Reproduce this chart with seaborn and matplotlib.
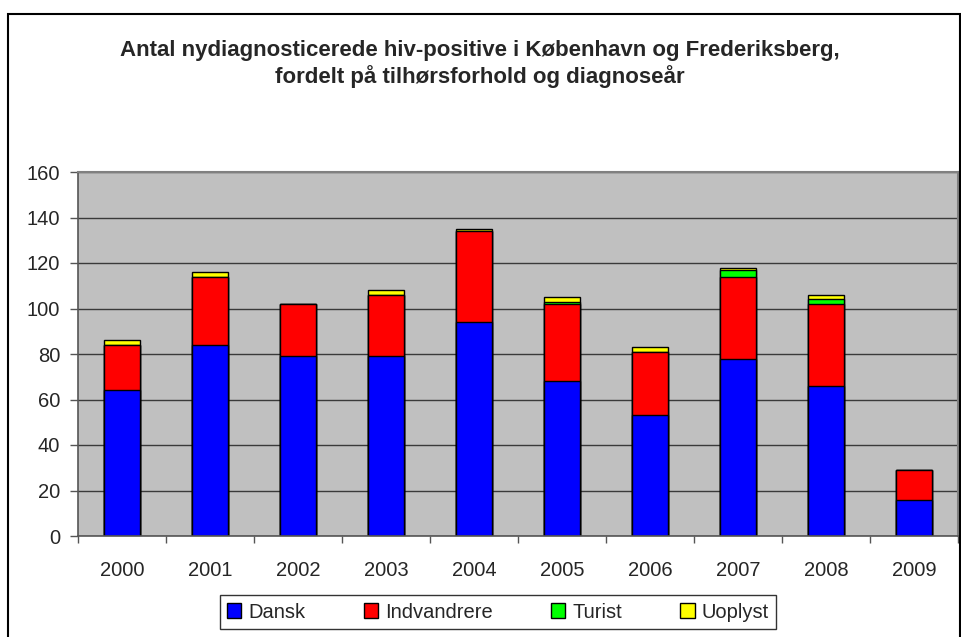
import numpy as np
import pandas as pd
import seaborn as sns
import matplotlib.pyplot as plt
from matplotlib.patches import Patch, Rectangle

sns.set_style("white")
plt.rcParams["font.family"] = ["Liberation Sans", "DejaVu Sans"]

years = ["2000", "2001", "2002", "2003", "2004",
         "2005", "2006", "2007", "2008", "2009"]
dansk = [64, 84, 79, 79, 94, 68, 53, 78, 66, 16]
indvandrere = [20, 30, 23, 27, 40, 34, 28, 36, 36, 13]
turist = [0, 0, 0, 0, 0, 1, 0, 3, 2, 0]
uoplyst = [2, 2, 0, 2, 1, 2, 2, 1, 2, 0]

groups = ["Dansk", "Indvandrere", "Turist", "Uoplyst"]
colors = ["#0000FF", "#FF0000", "#00FF00", "#FFFF00"]
title = ("Antal nydiagnosticerede hiv-positive i København og Frederiksberg,\n"
         "fordelt på tilhørsforhold og diagnoseår")


def build_stack():
    df = pd.DataFrame({"year": years, "Dansk": dansk,
                       "Indvandrere": indvandrere, "Turist": turist,
                       "Uoplyst": uoplyst})
    # cumulative heights, each layer drawn over the taller one
    df[groups] = df[groups].cumsum(axis=1)
    return df


def plot_stacked(df):
    fig = plt.figure(figsize=(9.62, 6.37), dpi=100)
    ax = fig.add_axes([78 / 962, 1 - 536 / 637, 880 / 962, 364 / 637])
    ax.set_facecolor("#C0C0C0")

    for group, color in reversed(list(zip(groups, colors))):
        sns.barplot(x="year", y=group, data=df, color=color, width=0.4,
                    edgecolor="black", linewidth=1, saturation=1, ax=ax)

    ax.set_xlim(-0.5, 9.5)
    ax.set_ylim(0, 160)
    ax.set_yticks(np.arange(0, 161, 20))
    ax.set_xlabel("")
    ax.set_ylabel("")
    ax.set_axisbelow(True)
    ax.yaxis.grid(True, color="#3a3a3a", linewidth=1)

    ax.tick_params(axis="y", length=5.8, width=1, color="#555555",
                   labelsize=14.5, pad=7, left=True)
    ax.tick_params(axis="x", which="major", length=0, labelsize=14.5, pad=18)
    ax.set_xticks(np.arange(-0.5, 10, 1), minor=True)
    ax.tick_params(axis="x", which="minor", length=5, width=1,
                   color="#555555", bottom=True)

    for side in ["left", "bottom"]:
        ax.spines[side].set_color("#555555")
        ax.spines[side].set_linewidth(1.2)
    for side in ["top", "right"]:
        ax.spines[side].set_color("#808080")
        ax.spines[side].set_linewidth(1.5)

    fig.text(480 / 962, 1 - 64 / 637, title, ha="center", va="center",
             fontsize=16, fontweight="bold", linespacing=1.25)

    handles = [Patch(facecolor=c, edgecolor="black", label=g)
               for g, c in zip(groups, colors)]
    fig.legend(handles=handles, loc="center", ncol=4,
               bbox_to_anchor=(498 / 962, 1 - 612 / 637),
               fontsize=14.5, frameon=True, fancybox=False,
               edgecolor="black", handlelength=0.7, handleheight=0.7,
               handletextpad=0.35, columnspacing=2.9, borderpad=0.35)

    fig.patches.append(Rectangle((8 / 962, -0.01), 952 / 962,
                                 1 - 14 / 637 + 0.01,
                                 transform=fig.transFigure, fill=False,
                                 edgecolor="black", linewidth=1.5))
    fig.savefig("out.png", dpi=100)


def main():
    df = build_stack()
    plot_stacked(df)


if __name__ == "__main__":
    main()
